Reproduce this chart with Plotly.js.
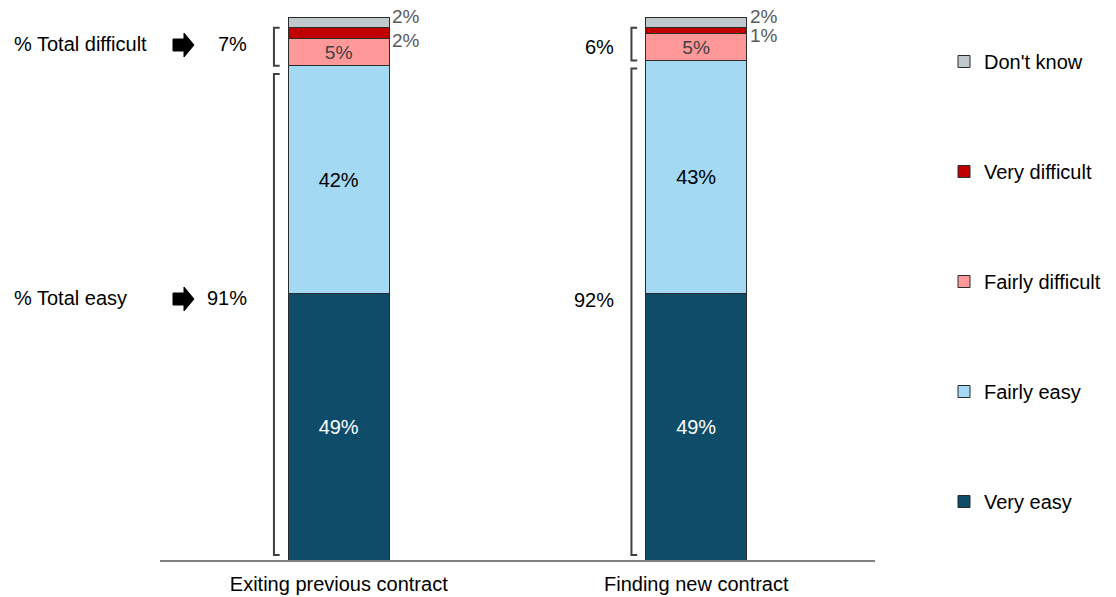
<!DOCTYPE html>
<html>
<head>
<meta charset="utf-8">
<script src="https://cdn.plot.ly/plotly-3.0.1.min.js"></script>
<style>html,body{margin:0;padding:0;background:#fff;}#chart{width:1116px;height:597px;}</style>
</head>
<body>
<div id="chart"></div>
<script>
// ---- data ----
const categories = ['Exiting previous contract', 'Finding new contract'];
const veryEasy = [49, 49];
const fairlyEasy = [42, 43];
const fairlyDifficult = [5, 5];
const veryDifficult = [2, 1];
const dontKnow = [2, 2];
const totalEasy = [91, 92];
const totalDifficult = [7, 6];
const seriesNames = ['Very easy', 'Fairly easy', 'Fairly difficult', 'Very difficult', "Don't know"];

// ---- layout helpers ----
const FONT = 'Liberation Sans, Arial, sans-serif';
const W = 1116, H = 597;
const L = 160, R = 875, T = 17, B = 560;
const px = x => (x - L) / (R - L);
const py = y => (B - y) / (B - T);
const BW = 0.2825;
const xs = categories.map((c, i) => i);
const pct = v => v + '%';

const colors = ['#0F4C6A', '#A3D9F3', '#FF9999', '#C00000', '#BFC8CD'];
const textColors = ['#FFFFFF', '#000000', '#404040', '#404040', '#404040'];
const values = [veryEasy, fairlyEasy, fairlyDifficult, veryDifficult, dontKnow];

const traces = values.map((vals, k) => ({
  type: 'bar',
  name: seriesNames[k],
  x: xs,
  y: vals,
  width: BW,
  legendgroup: 'g' + k,
  legendrank: 1000 - k,
  marker: {color: colors[k], line: {color: '#2b2b2b', width: 1}},
  text: k < 3 ? vals.map(pct) : null,
  textposition: k < 3 ? 'inside' : 'none',
  insidetextanchor: 'middle',
  textangle: 0,
  textfont: {family: FONT, size: 20, color: textColors[k]},
  hoverinfo: 'name+y'
}));

const annotations = [];
const shapes = [];

xs.forEach((x, i) => {
  const cumBelowVD = veryEasy[i] + fairlyEasy[i] + fairlyDifficult[i];
  const cumTop = cumBelowVD + veryDifficult[i] + dontKnow[i];
  // outside small labels
  annotations.push({x: x + BW / 2, y: cumTop, xref: 'x', yref: 'y', xanchor: 'left', yanchor: 'middle', xshift: 1, yshift: 1,
    text: pct(dontKnow[i]), showarrow: false, font: {family: FONT, size: 19, color: '#595959'}});
  annotations.push({x: x + BW / 2, y: cumBelowVD, xref: 'x', yref: 'y', xanchor: 'left', yanchor: 'middle', xshift: 1, yshift: -2,
    text: pct(veryDifficult[i]), showarrow: false, font: {family: FONT, size: 19, color: '#595959'}});
  // brackets
  const bx = x - BW / 2 - 0.040, bt = x - BW / 2 - 0.024;
  const dTop = cumBelowVD + veryDifficult[i];
  const dBot = totalEasy[i];
  shapes.push({type: 'path', xref: 'x', yref: 'y',
    path: `M${bt},${dTop} L${bx},${dTop} L${bx},${dBot} L${bt},${dBot}`,
    line: {color: '#404040', width: 2}});
  const eTop = totalEasy[i] - 1.5, eBot = 0.9;
  shapes.push({type: 'path', xref: 'x', yref: 'y',
    path: `M${bt},${eTop} L${bx},${eTop} L${bx},${eBot} L${bt},${eBot}`,
    line: {color: '#404040', width: 2}});
});

// left side summary labels
annotations.push({x: px(12), y: py(44), xref: 'paper', yref: 'paper', xanchor: 'left', yanchor: 'middle',
  text: '% Total difficult', showarrow: false, font: {family: FONT, size: 20, color: '#000'}});
annotations.push({x: px(12), y: py(298), xref: 'paper', yref: 'paper', xanchor: 'left', yanchor: 'middle',
  text: '% Total easy', showarrow: false, font: {family: FONT, size: 20, color: '#000'}});
annotations.push({x: px(249), y: py(44), xref: 'paper', yref: 'paper', xanchor: 'right', yanchor: 'middle',
  text: pct(totalDifficult[0]), showarrow: false, font: {family: FONT, size: 20, color: '#000'}});
annotations.push({x: px(249), y: py(298), xref: 'paper', yref: 'paper', xanchor: 'right', yanchor: 'middle',
  text: pct(totalEasy[0]), showarrow: false, font: {family: FONT, size: 20, color: '#000'}});
annotations.push({x: px(616), y: py(47), xref: 'paper', yref: 'paper', xanchor: 'right', yanchor: 'middle',
  text: pct(totalDifficult[1]), showarrow: false, font: {family: FONT, size: 20, color: '#000'}});
annotations.push({x: px(616), y: py(300), xref: 'paper', yref: 'paper', xanchor: 'right', yanchor: 'middle',
  text: pct(totalEasy[1]), showarrow: false, font: {family: FONT, size: 20, color: '#000'}});

// block arrows
function arrow(cy) {
  const p = [[173, cy - 6], [184, cy - 6], [184, cy - 12], [194, cy], [184, cy + 12], [184, cy + 6], [173, cy + 6]];
  return {type: 'path', xref: 'paper', yref: 'paper',
    path: 'M' + p.map(q => px(q[0]) + ',' + py(q[1])).join(' L') + ' Z',
    fillcolor: '#000', line: {color: '#000', width: 1}};
}
shapes.push(arrow(45));
shapes.push(arrow(299));

const layout = {
  width: W, height: H,
  margin: {l: L, r: W - R, t: T, b: H - B, pad: 0, autoexpand: false},
  paper_bgcolor: '#fff', plot_bgcolor: '#fff',
  barmode: 'stack',
  font: {family: FONT, size: 20, color: '#000'},
  xaxis: {range: [-0.5, 1.5], tickvals: xs, ticktext: categories, showline: true, linecolor: '#7f7f7f', linewidth: 2,
    showgrid: false, zeroline: false, ticks: '', ticklabelstandoff: 5, fixedrange: true,
    tickfont: {family: FONT, size: 20, color: '#000'}},
  yaxis: {range: [0, 100], visible: false, fixedrange: true},
  showlegend: true,
  legend: {x: px(944), xanchor: 'left', y: py(42), yanchor: 'top', traceorder: 'grouped', tracegroupgap: 81,
    font: {family: FONT, size: 20, color: '#000'}, bgcolor: 'rgba(0,0,0,0)', borderwidth: 0, itemwidth: 30},
  annotations: annotations,
  shapes: shapes
};

Plotly.newPlot('chart', traces, layout, {displayModeBar: false, staticPlot: true});
</script>
</body>
</html>
